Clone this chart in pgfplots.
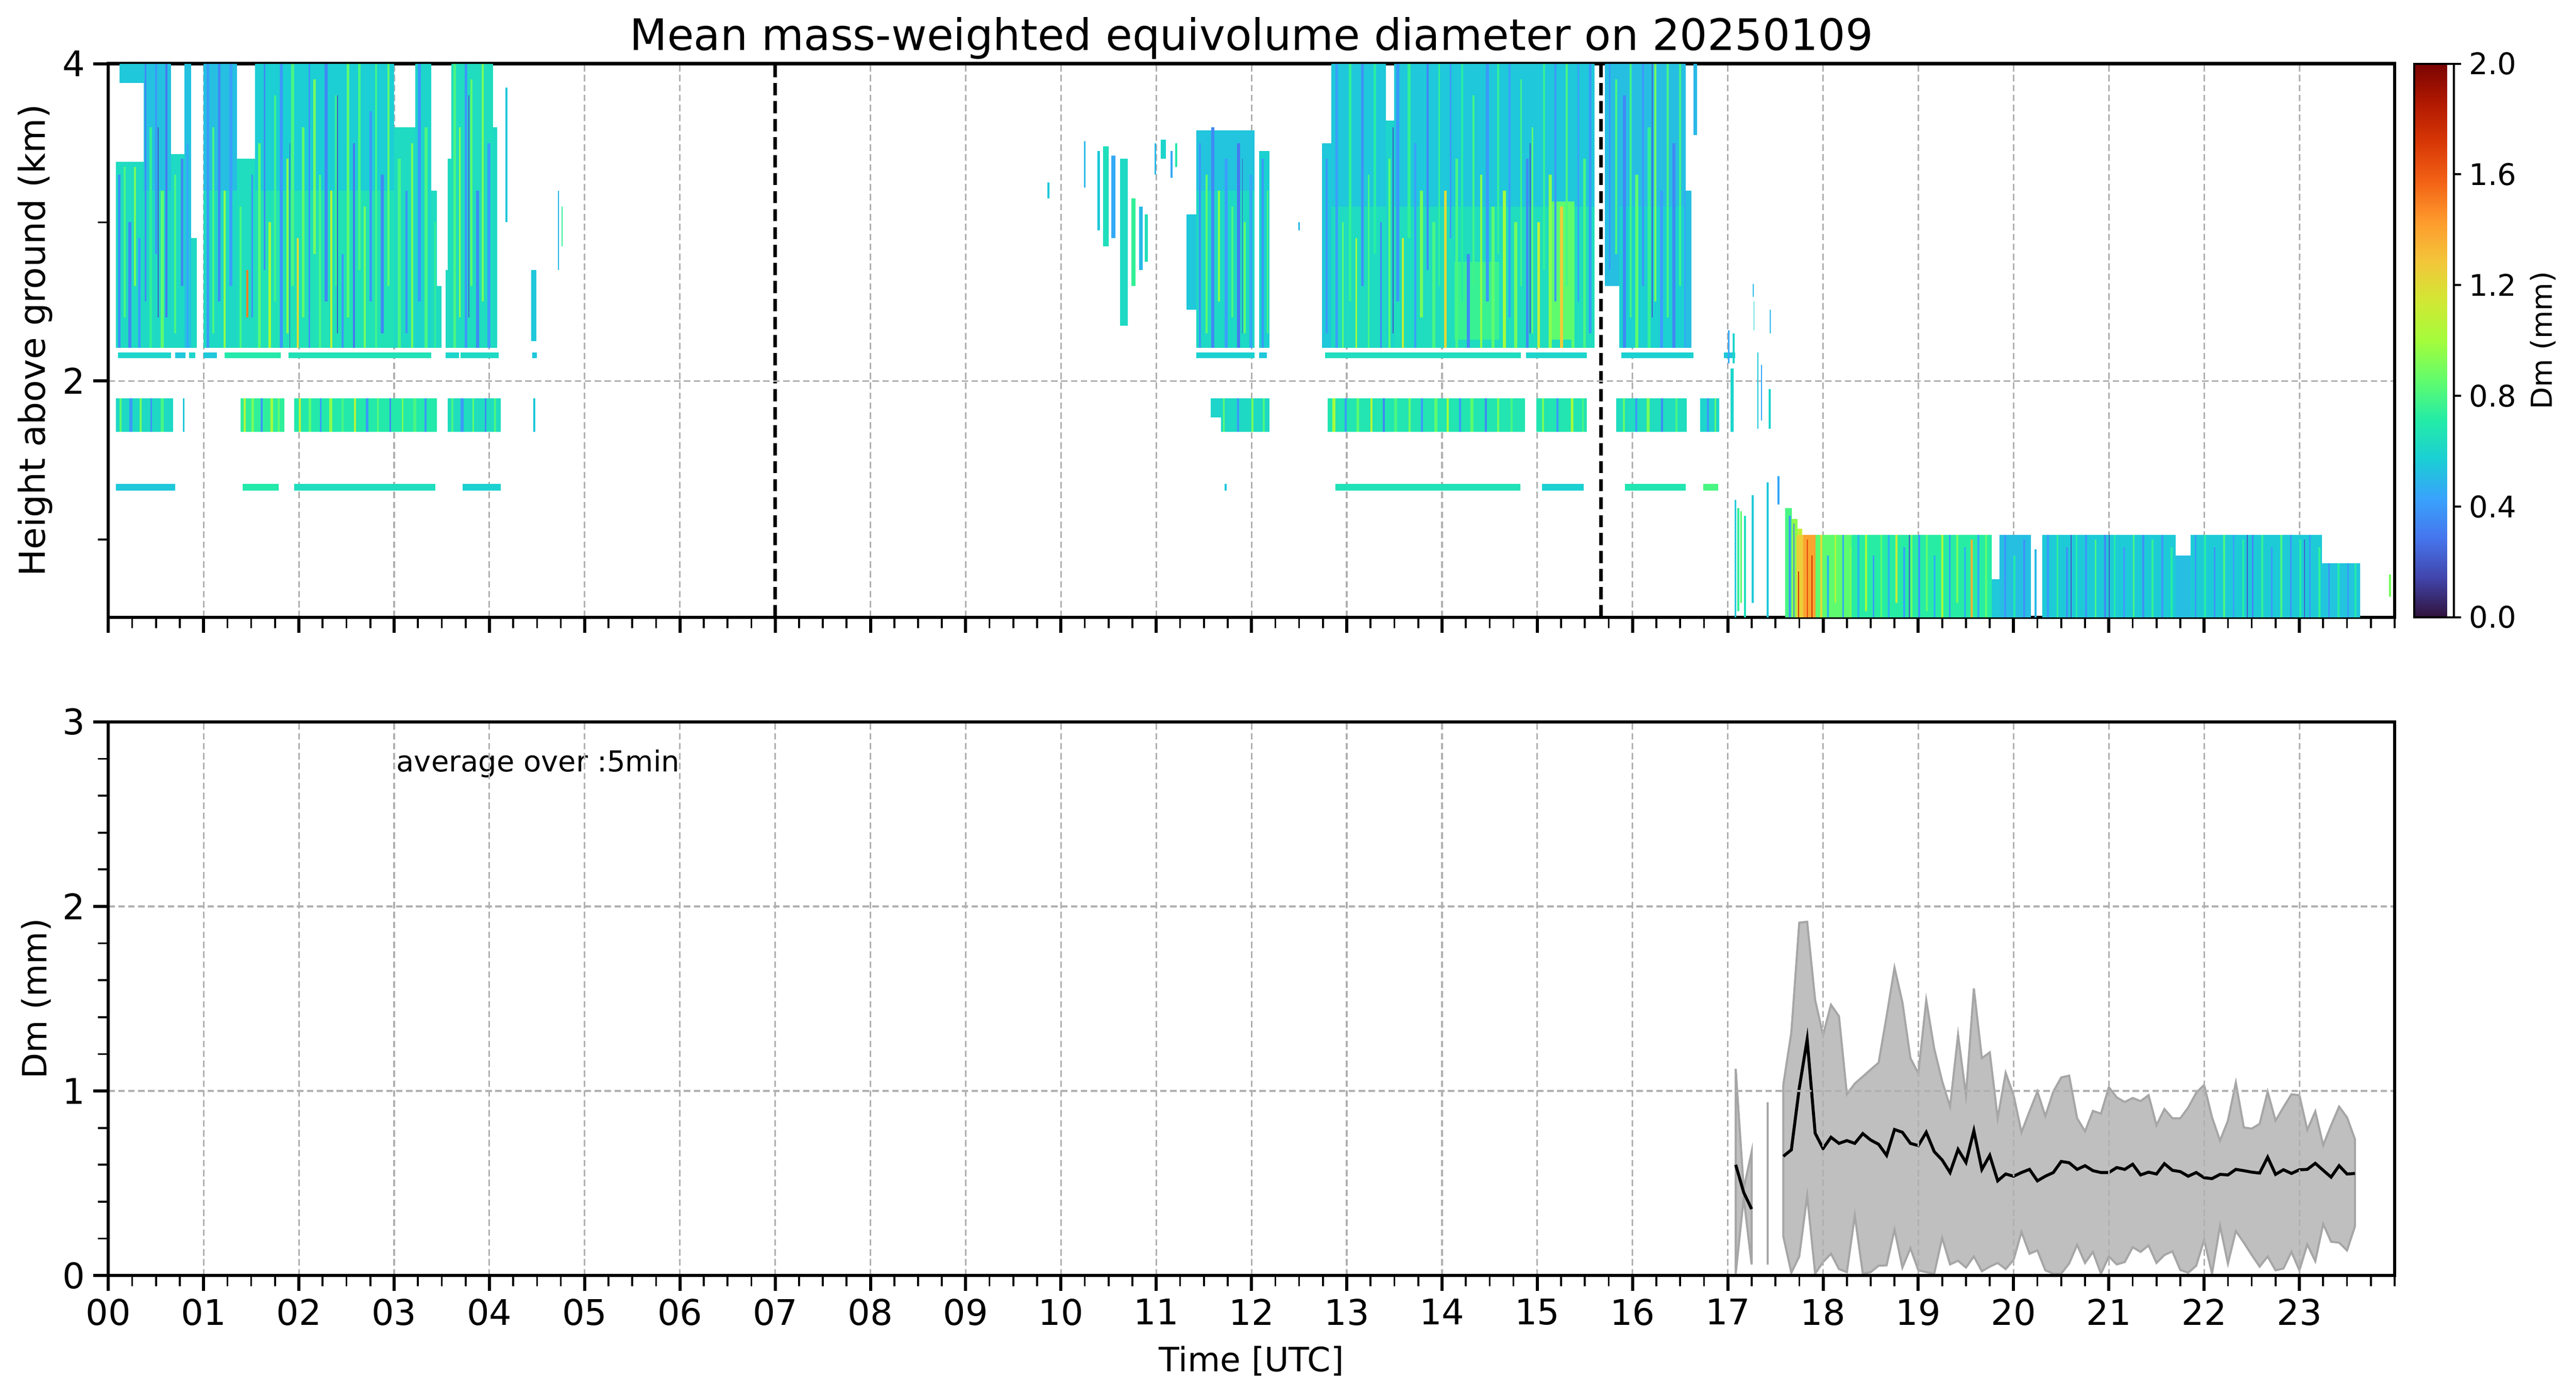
\documentclass[border=0pt]{standalone}
\usepackage{pgfplots}
\pgfplotsset{compat=1.18}
\usepackage{pgfplotstable}
\usepackage{fontspec}
\setmainfont{DejaVu Sans}
\definecolor{gridc}{RGB}{176,176,176}
\definecolor{envfill}{RGB}{191,191,191}
\definecolor{envedge}{RGB}{166,166,166}
\def\cw{1}\def\ch{1}
\pgfdeclareplotmark{cell}{\pgfpathrectangle{\pgfpoint{-0.5*\cw}{-0.5*\ch}}{\pgfpoint{\cw}{\ch}}\pgfusepathqfill}

% t0 t1 y0 y1 v : time span (h), height span (km), Dm (mm)
\pgfplotstableread{
t0 t1 y0 y1 v
0.08 0.37 2.21 3.38 0.63
0.12 0.37 3.88 4.00 0.55
0.37 0.66 3.20 4.00 0.53
0.37 0.66 2.21 3.20 0.62
0.66 0.80 2.21 3.43 0.62
0.80 0.87 2.21 4.00 0.53
0.87 0.93 2.21 2.90 0.62
1.00 1.35 3.20 4.00 0.52
1.00 1.35 2.21 3.20 0.62
1.35 1.54 2.21 3.40 0.64
1.54 3.00 3.20 4.00 0.57
1.54 3.00 2.21 3.20 0.66
3.00 3.22 2.21 3.60 0.63
3.22 3.39 2.21 4.00 0.60
3.39 3.45 2.21 3.20 0.63
3.45 3.50 2.21 2.60 0.63
3.54 3.56 2.21 2.70 0.63
3.56 3.60 2.21 3.40 0.63
3.60 4.04 2.21 4.00 0.64
4.04 4.08 2.21 3.60 0.62
4.17 4.19 3.00 3.85 0.55
4.44 4.49 2.25 2.70 0.55
4.72 4.73 2.70 3.20 0.50
4.76 4.77 2.85 3.10 0.75
0.10 0.13 2.21 3.30 0.38
0.16 0.18 2.40 3.35 0.80
0.21 0.24 2.21 3.00 0.35
0.27 0.29 2.60 3.35 0.90
0.31 0.34 2.21 2.90 0.42
0.38 0.40 2.50 4.00 0.35
0.43 0.46 2.21 3.60 0.75
0.49 0.51 2.80 4.00 0.40
0.52 0.53 2.40 3.60 0.20
0.55 0.58 2.21 3.20 0.85
0.60 0.62 2.40 4.00 0.30
0.69 0.71 2.30 3.30 0.80
0.76 0.79 2.60 3.40 0.35
0.82 0.84 2.21 3.50 0.45
1.03 1.06 2.21 4.00 0.40
1.09 1.11 2.30 3.60 0.80
1.15 1.18 2.50 4.00 0.35
1.21 1.23 2.21 3.20 0.95
1.27 1.30 2.60 4.00 0.42
1.38 1.40 2.21 3.10 0.80
1.45 1.47 2.40 2.70 1.50
1.50 1.52 2.40 3.30 0.38
1.57 1.60 2.21 3.50 0.85
1.63 1.65 2.70 4.00 0.35
1.68 1.71 2.21 3.00 1.00
1.74 1.76 2.50 3.80 0.78
1.80 1.83 2.21 4.00 0.40
1.87 1.89 2.30 3.40 0.95
1.90 1.91 2.21 3.50 0.20
1.92 1.95 2.60 4.00 0.80
1.98 2.00 2.21 2.90 1.20
2.03 2.06 2.40 3.60 0.85
2.10 2.12 2.21 4.00 0.38
2.15 2.18 2.80 3.90 0.90
2.21 2.23 2.21 3.30 0.80
2.27 2.30 2.50 4.00 0.35
2.33 2.35 2.21 3.20 1.05
2.38 2.41 2.60 3.80 0.75
2.40 2.41 2.30 3.80 0.20
2.45 2.47 2.21 2.80 0.40
2.50 2.53 2.40 4.00 0.85
2.57 2.59 2.21 3.50 0.30
2.62 2.65 2.70 4.00 0.80
2.68 2.70 2.21 3.10 0.90
2.74 2.77 2.50 3.70 0.40
2.80 2.82 2.21 4.00 0.78
2.86 2.89 2.30 3.30 0.35
2.93 2.95 2.60 4.00 0.85
3.04 3.07 2.21 3.40 0.80
3.12 3.14 2.30 3.20 0.38
3.18 3.20 2.21 3.50 0.90
3.25 3.28 2.50 4.00 0.40
3.32 3.35 2.21 3.60 0.80
3.42 3.44 2.21 3.00 0.75
3.62 3.65 2.21 4.00 0.80
3.68 3.70 2.40 3.60 0.95
3.74 3.77 2.21 4.00 0.40
3.78 3.79 2.40 3.80 0.22
3.80 3.82 2.60 3.90 0.85
3.86 3.89 2.21 3.20 0.35
3.92 3.94 2.50 4.00 0.90
3.98 4.01 2.21 3.50 0.42
9.86 9.88 3.15 3.25 0.55
10.24 10.26 3.22 3.51 0.50
10.38 10.41 2.95 3.45 0.55
10.44 10.50 2.85 3.48 0.65
10.53 10.57 2.90 3.42 0.45
10.62 10.70 2.35 3.40 0.62
10.74 10.78 2.60 3.15 0.75
10.82 10.86 2.70 3.10 0.50
10.88 10.91 2.75 3.05 0.65
10.98 11.00 3.30 3.50 0.50
11.05 11.10 3.40 3.52 0.60
11.15 11.17 3.28 3.45 0.45
11.20 11.22 3.35 3.50 0.70
11.32 11.42 2.45 3.05 0.55
11.42 12.03 3.20 3.58 0.54
11.42 12.03 2.21 3.20 0.62
12.08 12.19 2.21 3.45 0.58
11.45 11.47 2.21 3.50 0.40
11.52 11.54 2.30 3.30 0.85
11.58 11.61 2.21 3.60 0.35
11.65 11.67 2.50 3.20 0.95
11.72 11.75 2.21 3.40 0.42
11.79 11.81 2.40 3.10 0.80
11.85 11.88 2.21 3.50 0.30
11.90 11.91 2.30 3.40 0.20
11.92 11.94 2.30 3.00 0.85
11.98 12.01 2.21 3.30 0.45
12.11 12.13 2.21 3.40 0.40
12.16 12.18 2.30 3.20 0.80
12.49 12.51 2.95 3.00 0.50
12.74 12.84 2.21 3.50 0.55
12.84 13.41 3.10 4.00 0.55
12.84 13.41 2.21 3.10 0.63
13.41 13.50 2.21 3.64 0.60
13.50 15.60 3.10 4.00 0.55
13.50 15.60 2.21 3.10 0.64
14.13 14.60 2.26 2.75 0.76
15.12 15.39 2.26 3.13 0.85
12.78 12.80 2.30 3.40 0.40
12.88 12.91 2.21 4.00 0.42
12.95 12.97 2.21 3.00 0.85
13.02 13.05 2.50 4.00 0.75
13.09 13.11 2.21 2.90 1.00
13.15 13.18 2.60 4.00 0.38
13.22 13.24 2.21 3.30 0.80
13.28 13.31 2.80 4.00 0.72
13.35 13.37 2.21 3.00 0.35
13.44 13.46 2.21 3.40 0.85
13.48 13.49 2.30 3.60 0.20
13.52 13.55 2.50 4.00 0.40
13.58 13.60 2.21 2.90 1.10
13.64 13.67 2.90 4.00 0.75
13.71 13.73 2.21 3.50 0.42
13.77 13.80 2.40 3.20 0.90
13.84 13.86 2.70 4.00 0.35
13.90 13.93 2.21 3.00 0.80
13.96 13.98 2.60 4.00 0.75
14.02 14.05 2.21 3.20 1.20
14.08 14.10 2.90 4.00 0.40
14.14 14.17 2.21 3.40 0.80
14.20 14.22 2.50 4.00 0.72
14.26 14.29 2.21 2.80 0.35
14.32 14.34 2.60 3.80 0.78
14.40 14.42 2.21 3.30 0.95
14.46 14.49 2.50 4.00 0.40
14.52 14.55 2.21 3.10 0.85
14.58 14.60 2.80 4.00 0.75
14.64 14.67 2.21 3.20 1.00
14.70 14.72 2.40 4.00 0.42
14.76 14.79 2.21 3.00 0.90
14.82 14.84 2.60 3.90 0.78
14.88 14.91 2.21 3.40 0.35
14.92 14.93 2.30 3.50 0.20
14.94 14.96 2.30 3.60 0.85
15.00 15.03 2.21 3.00 1.10
15.06 15.08 2.70 4.00 0.75
15.12 15.15 2.21 3.30 0.95
15.18 15.20 2.50 4.00 0.40
15.24 15.27 2.21 3.10 1.25
15.30 15.32 2.60 4.00 0.80
15.36 15.39 2.21 3.00 0.85
15.42 15.44 2.50 4.00 0.42
15.48 15.51 2.21 3.40 0.80
15.54 15.57 2.30 4.00 0.40
15.71 15.86 2.60 4.00 0.52
15.86 16.56 3.10 4.00 0.52
15.86 16.56 2.21 3.10 0.58
16.56 16.62 2.21 3.20 0.52
16.64 16.68 3.55 4.00 0.50
15.75 15.77 2.70 4.00 0.40
15.82 15.84 2.80 3.90 0.80
15.90 15.93 2.21 3.80 0.35
15.97 15.99 2.40 4.00 0.78
16.03 16.06 2.21 3.30 0.85
16.10 16.12 2.60 4.00 0.40
16.16 16.19 2.21 3.60 0.75
16.20 16.21 2.40 4.00 0.22
16.23 16.25 2.50 4.00 0.90
16.29 16.32 2.21 3.20 0.42
16.36 16.38 2.40 4.00 0.80
16.42 16.45 2.21 3.50 0.35
16.49 16.51 2.60 4.00 0.78
16.54 16.56 2.21 3.20 0.45
0.10 0.66 2.145 2.18 0.60
0.70 0.81 2.145 2.18 0.55
0.85 0.91 2.145 2.18 0.60
1.00 1.14 2.145 2.18 0.55
1.22 1.81 2.145 2.18 0.70
1.89 3.39 2.145 2.18 0.66
3.54 3.68 2.145 2.18 0.60
3.70 4.10 2.145 2.18 0.62
4.45 4.50 2.145 2.18 0.55
11.42 12.03 2.145 2.18 0.58
12.08 12.16 2.145 2.18 0.55
12.77 14.83 2.145 2.18 0.64
14.88 15.52 2.145 2.18 0.60
15.88 16.64 2.145 2.18 0.58
16.96 17.08 2.145 2.18 0.55
0.08 0.70 1.31 1.35 0.55
1.41 1.79 1.31 1.35 0.70
1.95 3.43 1.31 1.35 0.64
3.72 4.12 1.31 1.35 0.58
11.72 11.74 1.31 1.35 0.55
12.88 14.82 1.31 1.35 0.66
15.05 15.49 1.31 1.35 0.58
15.92 16.56 1.31 1.35 0.68
16.74 16.90 1.31 1.35 0.80
0.08 0.68 1.68 1.89 0.62
0.78 0.80 1.68 1.89 0.55
1.39 1.85 1.68 1.89 0.74
1.95 3.45 1.68 1.89 0.70
3.56 4.12 1.68 1.89 0.64
4.46 4.48 1.68 1.89 0.55
11.57 11.68 1.77 1.89 0.60
11.68 12.19 1.68 1.89 0.62
12.80 14.87 1.68 1.89 0.68
14.99 15.52 1.68 1.89 0.68
15.83 16.57 1.68 1.89 0.64
16.71 16.91 1.68 1.89 0.60
17.03 17.06 1.68 2.08 0.60
0.12 0.14 1.68 1.89 0.85
0.22 0.25 1.68 1.89 0.40
0.33 0.35 1.68 1.89 0.90
0.44 0.46 1.68 1.89 0.38
0.55 0.58 1.68 1.89 0.80
1.42 1.44 1.68 1.89 1.05
1.50 1.53 1.68 1.89 0.90
1.60 1.62 1.68 1.89 0.40
1.70 1.73 1.68 1.89 1.00
1.78 1.80 1.68 1.89 0.85
2.00 2.02 1.68 1.89 1.10
2.10 2.13 1.68 1.89 0.85
2.22 2.24 1.68 1.89 0.40
2.32 2.35 1.68 1.89 0.95
2.45 2.47 1.68 1.89 0.80
2.58 2.60 1.68 1.89 1.05
2.70 2.73 1.68 1.89 0.40
2.82 2.84 1.68 1.89 0.85
2.95 2.97 1.68 1.89 0.35
3.08 3.10 1.68 1.89 0.90
3.20 3.23 1.68 1.89 0.80
3.32 3.34 1.68 1.89 0.40
3.60 3.62 1.68 1.89 0.80
3.70 3.73 1.68 1.89 0.40
3.82 3.84 1.68 1.89 0.85
3.95 3.97 1.68 1.89 0.35
4.05 4.07 1.68 1.89 0.80
11.70 11.72 1.68 1.89 0.85
11.85 11.87 1.68 1.89 0.40
12.00 12.02 1.68 1.89 0.90
12.12 12.14 1.68 1.89 0.80
12.85 12.88 1.68 1.89 1.00
12.98 13.00 1.68 1.89 0.40
13.10 13.13 1.68 1.89 0.85
13.25 13.27 1.68 1.89 1.05
13.38 13.40 1.68 1.89 0.35
13.50 13.53 1.68 1.89 0.80
13.65 13.67 1.68 1.89 0.90
13.78 13.80 1.68 1.89 0.40
13.92 13.95 1.68 1.89 0.85
14.05 14.07 1.68 1.89 1.00
14.18 14.20 1.68 1.89 0.40
14.30 14.33 1.68 1.89 0.85
14.45 14.47 1.68 1.89 0.35
14.58 14.60 1.68 1.89 0.90
14.72 14.74 1.68 1.89 0.80
15.05 15.07 1.68 1.89 0.90
15.20 15.22 1.68 1.89 0.40
15.35 15.38 1.68 1.89 1.00
15.47 15.49 1.68 1.89 0.80
15.90 15.92 1.68 1.89 0.85
16.03 16.05 1.68 1.89 0.40
16.15 16.18 1.68 1.89 0.90
16.30 16.32 1.68 1.89 0.35
16.45 16.47 1.68 1.89 0.80
16.78 16.80 1.68 1.89 0.40
16.86 16.88 1.68 1.89 0.85
17.00 17.02 2.11 2.32 0.45
17.05 17.07 2.11 2.30 0.60
17.26 17.27 2.53 2.61 0.50
17.27 17.28 2.32 2.50 0.60
17.31 17.32 1.70 2.18 0.55
17.35 17.36 1.75 2.10 0.45
17.43 17.45 1.70 1.95 0.60
17.44 17.45 2.30 2.45 0.50
17.07 17.09 0.51 1.25 0.55
17.10 17.12 0.55 1.20 0.75
17.13 17.15 0.60 1.18 0.85
17.17 17.19 0.51 1.15 0.65
17.25 17.27 0.60 1.28 0.55
17.41 17.43 0.51 1.36 0.55
17.52 17.54 1.22 1.40 0.45
17.60 17.67 0.51 1.20 0.80
17.67 17.73 0.51 1.13 0.95
17.73 17.78 0.51 1.07 1.10
17.78 18.30 0.51 1.03 0.85
18.30 19.77 0.51 1.03 0.72
19.77 19.85 0.51 0.75 0.55
19.85 20.18 0.51 1.03 0.52
20.22 20.24 0.51 0.94 0.50
20.30 21.70 0.51 1.03 0.56
21.70 21.86 0.51 0.90 0.52
21.86 23.24 0.51 1.03 0.56
23.24 23.64 0.51 0.85 0.54
23.94 23.96 0.64 0.78 0.90
17.72 17.79 0.51 1.03 1.25
17.79 17.92 0.51 1.03 1.40
17.74 17.75 0.51 0.80 1.75
17.83 17.84 0.51 1.00 1.65
17.88 17.89 0.51 0.90 1.75
17.64 17.66 0.51 1.15 0.40
17.69 17.70 0.51 1.10 0.35
17.97 17.99 0.51 1.03 1.20
18.04 18.06 0.51 0.90 0.50
18.12 18.14 0.60 1.03 1.05
18.20 18.22 0.51 1.03 0.45
18.28 18.30 0.51 0.95 0.90
18.36 18.38 0.51 1.03 0.50
18.44 18.46 0.55 1.03 1.00
18.52 18.54 0.51 0.90 0.42
18.60 18.62 0.51 1.03 0.85
18.68 18.70 0.51 1.03 0.50
18.76 18.78 0.60 1.03 1.10
18.84 18.86 0.51 0.95 0.45
18.90 18.91 0.51 1.03 0.20
18.92 18.94 0.51 1.03 0.90
19.00 19.02 0.51 1.03 0.40
19.08 19.10 0.55 1.03 0.85
19.16 19.18 0.51 0.90 0.50
19.24 19.26 0.51 1.03 1.00
19.32 19.34 0.51 1.03 0.42
19.40 19.42 0.60 1.03 0.90
19.48 19.50 0.51 0.95 0.50
19.55 19.57 0.51 1.00 1.35
19.62 19.64 0.51 1.03 0.45
19.70 19.72 0.51 1.03 0.85
19.90 19.92 0.51 1.03 0.40
20.00 20.02 0.51 0.90 0.70
20.10 20.12 0.51 1.00 0.38
20.35 20.37 0.51 1.03 0.40
20.45 20.47 0.51 1.03 0.75
20.55 20.57 0.51 0.95 0.38
20.60 20.61 0.51 1.03 0.20
20.65 20.67 0.51 1.03 0.72
20.75 20.77 0.51 1.03 0.40
20.85 20.87 0.51 1.00 0.80
20.95 20.97 0.51 1.03 0.35
21.00 21.01 0.51 1.03 0.20
21.05 21.07 0.51 1.03 0.72
21.15 21.17 0.51 0.95 0.42
21.25 21.27 0.51 1.03 0.80
21.35 21.37 0.51 1.03 0.38
21.45 21.47 0.51 1.00 0.75
21.55 21.57 0.51 1.03 0.40
21.65 21.67 0.51 0.95 0.72
21.90 21.92 0.51 1.03 0.40
22.00 22.02 0.51 1.03 0.72
22.10 22.12 0.51 0.95 0.38
22.20 22.22 0.51 1.03 0.80
22.30 22.32 0.51 1.03 0.42
22.40 22.42 0.51 1.00 0.72
22.45 22.46 0.51 1.03 0.20
22.50 22.52 0.51 1.03 0.35
22.60 22.62 0.51 1.03 0.75
22.70 22.72 0.51 0.95 0.40
22.80 22.82 0.51 1.03 0.80
22.90 22.92 0.51 1.03 0.38
23.00 23.02 0.51 1.00 0.72
23.05 23.06 0.51 1.00 0.22
23.10 23.12 0.51 1.03 0.40
23.20 23.22 0.51 0.95 0.75
23.30 23.32 0.51 0.85 0.38
23.40 23.42 0.51 0.85 0.72
23.50 23.52 0.51 0.85 0.40
23.58 23.60 0.51 0.85 0.70
}\cells

% 5-min mean Dm
\pgfplotstableread{
t m
17.083 0.60
17.167 0.45
17.250 0.36
}\segA

\pgfplotstableread{
t m
17.583 0.646
17.667 0.681
17.750 1.015
17.833 1.279
17.917 0.771
18.000 0.688
18.083 0.749
18.167 0.716
18.250 0.731
18.333 0.716
18.417 0.769
18.500 0.734
18.583 0.711
18.667 0.651
18.750 0.791
18.833 0.776
18.917 0.716
19.000 0.704
19.083 0.776
19.167 0.671
19.250 0.626
19.333 0.558
19.417 0.683
19.500 0.613
19.583 0.784
19.667 0.575
19.750 0.651
19.833 0.513
19.917 0.550
20.000 0.538
20.083 0.558
20.167 0.575
20.250 0.513
20.333 0.538
20.417 0.558
20.500 0.618
20.583 0.611
20.667 0.575
20.750 0.595
20.833 0.568
20.917 0.558
21.000 0.558
21.083 0.585
21.167 0.575
21.250 0.603
21.333 0.545
21.417 0.560
21.500 0.550
21.583 0.606
21.667 0.570
21.750 0.563
21.833 0.538
21.917 0.558
22.000 0.530
22.083 0.525
22.167 0.548
22.250 0.545
22.333 0.575
22.417 0.568
22.500 0.560
22.583 0.555
22.667 0.641
22.750 0.548
22.833 0.573
22.917 0.553
23.000 0.573
23.083 0.575
23.167 0.608
23.250 0.570
23.333 0.533
23.417 0.595
23.500 0.550
23.583 0.553
}\segB

\pgfplotsset{
  mystyle/.style={
    width=990.75pt, height=239.85pt, scale only axis,
    xmin=0, xmax=24,
    xtick={0,...,23}, minor xtick={0,0.25,...,24},
    tick align=outside, tick pos=left,
    major tick length=6.6pt, minor tick length=4.6pt,
    major tick style={line width=1.35pt, black},
    minor tick style={line width=0.82pt, black},
    axis line style={line width=1.4pt},
    grid=major,
    major grid style={gridc, line width=0.7pt, dash pattern=on 2.8pt off 1.5pt},
    axis on top,
    tick label style={font=\fontsize{15.3}{18}\selectfont},
    /pgf/number format/assume math mode=true,
  }
}

\begin{document}
\begin{tikzpicture}
\useasboundingbox (0,0) rectangle (1116.3pt,-604.65pt);

\begin{axis}[mystyle,
  name=toppanel,
  at={(46.95pt,-267.45pt)}, anchor=south west,
  ymin=0.51, ymax=4,
  xtick={0,1,2,3,4,5,6,8,9,10,11,12,13,14,15,16,17,18,19,20,21,22,23},
  extra x ticks={7}, extra x tick labels={}, extra x tick style={grid=none},
  ytick={2,4}, minor ytick={1,3},
  xticklabels={},
  colormap={turbo}{rgb255=(48,18,59) rgb255=(65,69,171) rgb255=(70,117,237) rgb255=(57,162,252) rgb255=(27,207,212) rgb255=(36,236,166) rgb255=(97,252,108) rgb255=(164,252,59) rgb255=(209,232,52) rgb255=(243,198,58) rgb255=(254,155,45) rgb255=(243,99,21) rgb255=(217,56,6) rgb255=(177,25,1) rgb255=(122,4,2)},
  point meta min=0, point meta max=2,
  colorbar,
  colorbar style={
    at={([xshift=10.95pt]parent axis.north east)}, anchor=north west,
    width=17.1pt, height=239.85pt, scale only axis,
    ytick={0,0.4,0.8,1.2,1.6,2.0},
    xtick=\empty,
    ytick pos=right, yticklabel pos=right,
    tick align=outside,
    major tick length=3.1pt,
    major tick style={line width=0.9pt, black},
    axis line style={line width=0.9pt},
    yticklabel style={font=\fontsize{12.9}{15}\selectfont, /pgf/number format/.cd, fixed, fixed zerofill, precision=1, assume math mode=true},
  },
]
\addplot[scatter, only marks, mark=cell, point meta=explicit,
  scatter/use mapped color={draw=none, fill=mapped color},
  visualization depends on={41.281*(\thisrow{t1}-\thisrow{t0}) \as \cw},
  visualization depends on={68.725*(\thisrow{y1}-\thisrow{y0}) \as \ch},
] table[x expr={0.5*(\thisrow{t0}+\thisrow{t1})}, y expr={0.5*(\thisrow{y0}+\thisrow{y1})}, meta=v] {\cells};
\addplot[black, line width=1.5pt, dash pattern=on 5.3pt off 2.5pt] coordinates {(7,0.51) (7,4)};
\addplot[black, line width=1.5pt, dash pattern=on 5.3pt off 2.5pt] coordinates {(15.667,0.51) (15.667,4)};
\end{axis}

\begin{axis}[mystyle,
  at={(46.95pt,-552.6pt)}, anchor=south west,
  ymin=0, ymax=3,
  ytick={0,1,2,3}, minor ytick={0.2,0.4,0.6,0.8,1.2,1.4,1.6,1.8,2.2,2.4,2.6,2.8},
  xticklabels={00,01,02,03,04,05,06,07,08,09,10,11,12,13,14,15,16,17,18,19,20,21,22,23},
]
% min-max envelope: upper edge forward, lower edge backward
\addplot[fill=envfill, draw=envedge, line width=0.9pt] coordinates {
(17.083,1.12) (17.167,0.47) (17.250,0.67)
(17.250,0.06) (17.167,0.42) (17.083,0.01) (17.083,1.12)};
\addplot[envedge, line width=0.9pt] coordinates {(17.417,0.06) (17.417,0.94)};
\addplot[fill=envfill, draw=envedge, line width=0.9pt] coordinates {
(17.583,1.035) (17.667,1.317) (17.750,1.912) (17.833,1.917) (17.917,1.492) (18.000,1.304)
(18.083,1.467) (18.167,1.405) (18.250,0.982) (18.333,1.040) (18.417,1.078) (18.500,1.116)
(18.583,1.153) (18.667,1.405) (18.750,1.668) (18.833,1.480) (18.917,1.178) (19.000,1.095)
(19.083,1.492) (19.167,1.229) (19.250,1.053) (19.333,0.915) (19.417,1.304) (19.500,0.977)
(19.583,1.555) (19.667,1.178) (19.750,1.209) (19.833,0.852) (19.917,1.098) (20.000,0.977)
(20.083,0.776) (20.167,0.889) (20.250,0.997) (20.333,0.864) (20.417,0.997) (20.500,1.073)
(20.583,1.083) (20.667,0.852) (20.750,0.781) (20.833,0.892) (20.917,0.877) (21.000,1.020)
(21.083,0.965) (21.167,0.940) (21.250,0.962) (21.333,0.945) (21.417,0.977) (21.500,0.814)
(21.583,0.902) (21.667,0.852) (21.750,0.852) (21.833,0.910) (21.917,0.990) (22.000,1.033)
(22.083,0.857) (22.167,0.731) (22.250,0.839) (22.333,1.045) (22.417,0.802) (22.500,0.796)
(22.583,0.822) (22.667,0.995) (22.750,0.839) (22.833,0.912) (22.917,0.982) (23.000,0.977)
(23.083,0.789) (23.167,0.889) (23.250,0.706) (23.333,0.814) (23.417,0.915) (23.500,0.857)
(23.583,0.739)
(23.583,0.266) (23.500,0.136) (23.417,0.178) (23.333,0.183) (23.250,0.279) (23.167,0.078)
(23.083,0.168) (23.000,0.028) (22.917,0.128) (22.833,0.038) (22.750,0.028) (22.667,0.103)
(22.583,0.048) (22.500,0.111) (22.417,0.178) (22.333,0.241) (22.250,0.065) (22.167,0.269)
(22.083,0.010) (22.000,0.193) (21.917,0.053) (21.833,0.015) (21.750,0.030) (21.667,0.131)
(21.583,0.111) (21.500,0.068) (21.417,0.163) (21.333,0.128) (21.250,0.153) (21.167,0.073)
(21.083,0.060) (21.000,0.103) (20.917,0.010) (20.833,0.128) (20.750,0.068) (20.667,0.166)
(20.583,0.065) (20.500,0.010) (20.417,0.010) (20.333,0.028) (20.250,0.136) (20.167,0.118)
(20.083,0.236) (20.000,0.085) (19.917,0.035) (19.833,0.068) (19.750,0.048) (19.667,0.023)
(19.583,0.103) (19.500,0.043) (19.417,0.080) (19.333,0.060) (19.250,0.204) (19.167,0.010)
(19.083,0.018) (19.000,0.028) (18.917,0.148) (18.833,0.043) (18.750,0.249) (18.667,0.055)
(18.583,0.053) (18.500,0.018) (18.417,0.010) (18.333,0.324) (18.250,0.018) (18.167,0.035)
(18.083,0.118) (18.000,0.073) (17.917,0.010) (17.833,0.432) (17.750,0.103) (17.667,0.015)
(17.583,0.211) (17.583,1.035)};
\addplot[black, line width=1.3pt] table[x=t, y=m] {\segA};
\addplot[black, line width=1.3pt] table[x=t, y=m] {\segB};
\node[anchor=base west, inner sep=0pt, font=\fontsize{12.5}{15}\selectfont] at (axis cs:3.02,2.73) {average over :5min};
\end{axis}

\node[anchor=base, inner sep=0pt, font=\fontsize{18.8}{22}\selectfont] at (542.3pt,-21.75pt) {Mean mass-weighted equivolume diameter on 20250109};
\node[anchor=base, rotate=90, inner sep=0pt, font=\fontsize{15.5}{18}\selectfont] at (19.5pt,-147.5pt) {Height above ground (km)};
\node[anchor=base, rotate=90, inner sep=0pt, font=\fontsize{14.5}{17}\selectfont] at (20.1pt,-432.7pt) {Dm (mm)};
\node[anchor=base, inner sep=0pt, font=\fontsize{14.5}{17}\selectfont] at (542.3pt,-594.15pt) {Time [UTC]};
\node[anchor=base, rotate=90, inner sep=0pt, font=\fontsize{12.5}{15}\selectfont] at (1105.8pt,-147.5pt) {Dm (mm)};
\end{tikzpicture}
\end{document}
